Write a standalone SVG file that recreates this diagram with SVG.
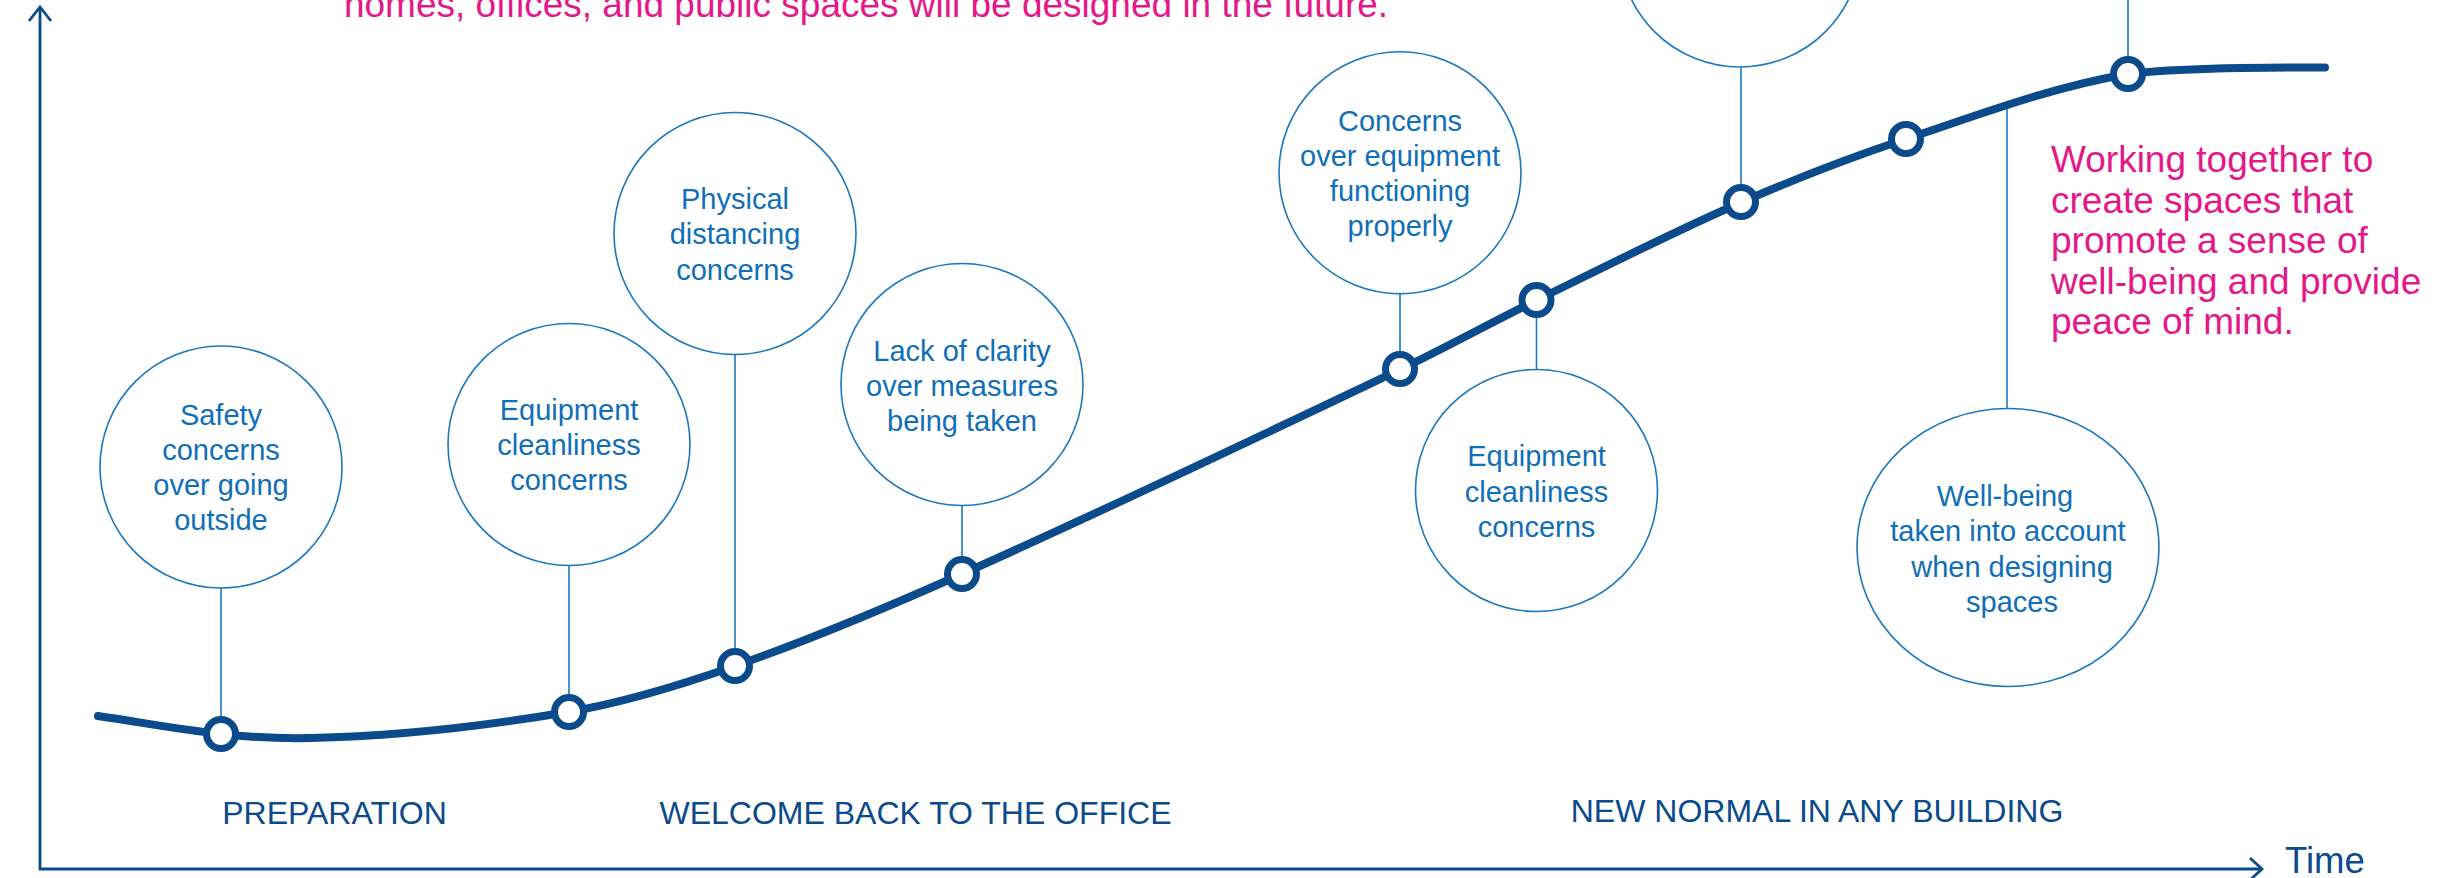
<svg xmlns="http://www.w3.org/2000/svg" width="2450" height="878" viewBox="0 0 2450 878">
<defs>
<style>
.bub{fill:#ffffff;stroke:#1b78c0;stroke-width:1.6}
.con{stroke:#1b78c0;stroke-width:1.6;fill:none}
.ring{fill:#ffffff;stroke:#0b4a8b;stroke-width:7}
.bt{font-family:"Liberation Sans",Arial,sans-serif;font-size:29px;fill:#0f6fb8;text-anchor:middle}
.ph{font-family:"Liberation Sans",Arial,sans-serif;font-size:32px;fill:#0b4a8b;text-anchor:middle}
.mg{font-family:"Liberation Sans",Arial,sans-serif;font-size:37px;fill:#e5188a}
.axis{stroke:#0b4a8b;stroke-width:2.8;fill:none}
</style>
</defs>
<rect x="0" y="0" width="2450" height="878" fill="#ffffff"/>

<g id="axes">
<polyline class="axis" points="40,7 40,869 2262,869"/>
<polyline class="axis" points="29,21 40,7 51,21"/>
<polyline class="axis" points="2250,858 2262,869 2250,880"/>
<text x="2285" y="873" style="font-family:'Liberation Sans',Arial,sans-serif;font-size:36.5px;fill:#0b4a8b">Time</text>
</g>

<g id="captions">
<text x="866" y="17" class="mg" style="text-anchor:middle">homes, offices, and public spaces will be designed in the future.</text>
<text class="mg" x="2051" y="172">Working together to</text>
<text class="mg" x="2051" y="212.5">create spaces that</text>
<text class="mg" x="2051" y="253">promote a sense of</text>
<text class="mg" x="2051" y="293.5">well-being and provide</text>
<text class="mg" x="2051" y="333.5">peace of mind.</text>
<text class="ph" x="334.5" y="824">PREPARATION</text>
<text class="ph" x="915.5" y="824">WELCOME BACK TO THE OFFICE</text>
<text class="ph" x="1817" y="822">NEW NORMAL IN ANY BUILDING</text>
</g>

<g id="connectors">
<line class="con" x1="221" y1="588" x2="221" y2="734"/>
<line class="con" x1="569" y1="566" x2="569" y2="712"/>
<line class="con" x1="735" y1="354" x2="735" y2="666"/>
<line class="con" x1="962" y1="505" x2="962" y2="574"/>
<line class="con" x1="1400" y1="294" x2="1400" y2="369"/>
<line class="con" x1="1536.5" y1="300" x2="1536.5" y2="370"/>
<line class="con" x1="1741" y1="67" x2="1741" y2="202"/>
<line class="con" x1="2128" y1="-5" x2="2128" y2="74"/>
<line class="con" x1="2007" y1="108" x2="2007" y2="409"/>
</g>

<g id="timeline">
<path d="M98,716 C139,722 179.8,729.7 221,734 C250.5,737.1 280.3,738.6 310,738 C396.4,736.3 482.8,726.4 568,712 C624.9,702.4 680.5,685.1 735,666 C812,639 887.5,607.2 962,574 C1109.5,508.2 1255.2,438.5 1401,369 C1446.9,347.1 1491.4,322.3 1537,300 C1605,266.7 1672.6,232.3 1742,202 C1795.7,178.6 1850.4,157.4 1906,139 C1979.2,114.7 2052,86.9 2128,74 C2180,68 2250,67.5 2325,67.5" fill="none" stroke="#0b4a8b" stroke-width="8" stroke-linecap="round"/>
</g>

<g id="node-safety">
<circle class="bub" cx="221" cy="467" r="121"/>
<text class="bt" x="221" y="425">Safety</text>
<text class="bt" x="221" y="460">concerns</text>
<text class="bt" x="221" y="495">over going</text>
<text class="bt" x="221" y="530">outside</text>
<circle class="ring" cx="221" cy="734" r="14.5"/>
</g>

<g id="node-equipment-1">
<circle class="bub" cx="569" cy="444.5" r="121"/>
<text class="bt" x="569" y="420">Equipment</text>
<text class="bt" x="569" y="455">cleanliness</text>
<text class="bt" x="569" y="490">concerns</text>
<circle class="ring" cx="569" cy="712" r="14.5"/>
</g>

<g id="node-distancing">
<circle class="bub" cx="735" cy="233.5" r="121"/>
<text class="bt" x="735" y="208.5">Physical</text>
<text class="bt" x="735" y="244">distancing</text>
<text class="bt" x="735" y="279.5">concerns</text>
<circle class="ring" cx="735" cy="666" r="14.5"/>
</g>

<g id="node-clarity">
<circle class="bub" cx="962" cy="384.5" r="121"/>
<text class="bt" x="962" y="361">Lack of clarity</text>
<text class="bt" x="962" y="396">over measures</text>
<text class="bt" x="962" y="431">being taken</text>
<circle class="ring" cx="962" cy="574" r="14.5"/>
</g>

<g id="node-functioning">
<circle class="bub" cx="1400" cy="172.7" r="121"/>
<text class="bt" x="1400" y="131">Concerns</text>
<text class="bt" x="1400" y="166">over equipment</text>
<text class="bt" x="1400" y="201">functioning</text>
<text class="bt" x="1400" y="236">properly</text>
<circle class="ring" cx="1400" cy="369" r="14.5"/>
</g>

<g id="node-equipment-2">
<circle class="bub" cx="1536.5" cy="490.5" r="121"/>
<text class="bt" x="1536.5" y="466">Equipment</text>
<text class="bt" x="1536.5" y="501.5">cleanliness</text>
<text class="bt" x="1536.5" y="537">concerns</text>
<circle class="ring" cx="1536.5" cy="300" r="14.5"/>
</g>

<g id="node-top-1">
<circle class="bub" cx="1740" cy="-54" r="121"/>
<circle class="ring" cx="1741" cy="202" r="14.5"/>
</g>

<g id="node-point">
<circle class="ring" cx="1906" cy="139" r="14.5"/>
</g>

<g id="node-top-2">
<circle class="ring" cx="2128" cy="74" r="14.5"/>
</g>

<g id="node-wellbeing">
<ellipse class="bub" cx="2008" cy="547.5" rx="151" ry="139"/>
<text class="bt" x="2005" y="506">Well-being</text>
<text class="bt" x="2008" y="541">taken into account</text>
<text class="bt" x="2012" y="576.5">when designing</text>
<text class="bt" x="2012" y="611.5">spaces</text>
</g>
</svg>
